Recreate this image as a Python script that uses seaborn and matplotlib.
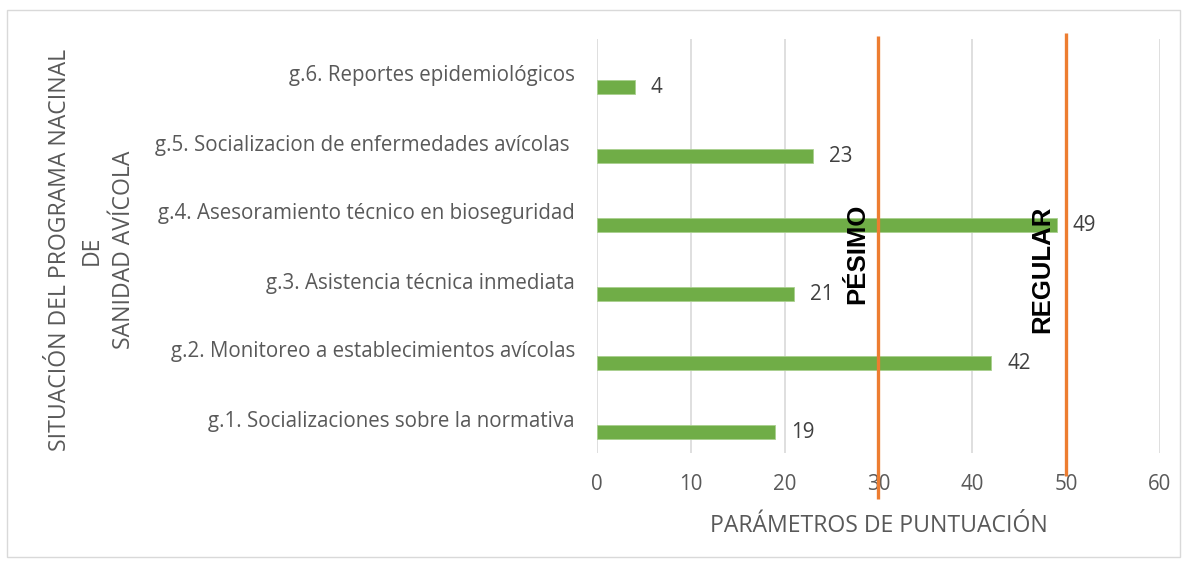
import matplotlib
matplotlib.use("Agg")
import matplotlib.pyplot as plt
import pandas as pd
import seaborn as sns
from matplotlib.patches import Rectangle

# Data (top row first)
categories = [
    "g.6. Reportes epidemiológicos",
    "g.5. Socializacion de enfermedades avícolas ",
    "g.4. Asesoramiento técnico en bioseguridad",
    "g.3. Asistencia técnica inmediata",
    "g.2. Monitoreo a establecimientos avícolas",
    "g.1. Socializaciones sobre la normativa",
]
scores = [4, 23, 49, 21, 42, 19]
x_ticks = [0, 10, 20, 30, 40, 50, 60]
threshold_values = [30, 50]
threshold_labels = ["PÉSIMO", "REGULAR"]

df = pd.DataFrame({"categoria": categories, "puntaje": scores})

sns.set_theme(style="white")
plt.rcParams["font.family"] = ["Open Sans", "DejaVu Sans"]

GRAY = "#595959"
GREEN = "#70ad47"
ORANGE = "#ed7d31"
FS = 14.8

fig = plt.figure(figsize=(11.87, 5.64), dpi=100)
ax = fig.add_axes([597 / 1187, 1 - 453 / 564, (1160 - 597) / 1187, (453 - 39) / 564])

sns.barplot(data=df, x="puntaje", y="categoria", order=categories,
            color=GREEN, width=0.2, saturation=1, ax=ax, orient="h")

# Excel-style: bars sit slightly below the category centre
for p in ax.patches:
    p.set_y(p.get_y() + 0.2)
    p.set_edgecolor("#a9d08e")
    p.set_linewidth(0.6)

for p, v in zip(ax.patches, scores):
    ax.annotate(str(v), (p.get_width(), p.get_y() + p.get_height() / 2),
                xytext=(16, 0), textcoords="offset pixels",
                va="center", ha="left", fontsize=FS, color="#404040")

ax.set_xlim(0, 60)
ax.set_ylim(5.5, -0.5)
ax.set_xticks(x_ticks)
ax.xaxis.grid(True, color="#d9d9d9", linewidth=1.2)
ax.yaxis.grid(False)
ax.set_axisbelow(True)
for s in ax.spines.values():
    s.set_visible(False)

ax.tick_params(axis="y", length=0, pad=16, labelsize=FS, labelcolor=GRAY)
ax.tick_params(axis="x", length=0, pad=15, labelsize=FS, labelcolor=GRAY)

ax.set_xlabel("PARÁMETROS DE PUNTUACIÓN", fontsize=16.6, color=GRAY, labelpad=14)
ax.set_ylabel("")
fig.text(92 / 1187, 1 - 250 / 564,
         "SITUACIÓN DEL PROGRAMA NACINAL\nDE\nSANIDAD AVÍCOLA",
         rotation=90, ha="center", va="center", multialignment="center",
         fontsize=16.6, color=GRAY, linespacing=1.45)

# Threshold lines extending past the plot area
ax.plot([threshold_values[0]] * 2, [-0.545, 6.17], color=ORANGE, lw=2.4,
        clip_on=False, solid_capstyle="butt")
ax.plot([threshold_values[1]] * 2, [-0.59, 5.84], color=ORANGE, lw=2.4,
        clip_on=False, solid_capstyle="butt")

ax.text(27.7, 2.61, threshold_labels[0], rotation=90, ha="center", va="center",
        fontsize=18.5, fontweight="bold", color="black", family="Liberation Sans")
ax.text(47.5, 2.84, threshold_labels[1], rotation=90, ha="center", va="center",
        fontsize=18.5, fontweight="bold", color="black", family="Liberation Sans")

# light frame around the whole chart
fig.patches.append(Rectangle((7 / 1187, 1 - 557 / 564), (1180 - 7) / 1187, (557 - 10) / 564,
                             transform=fig.transFigure, fill=False,
                             edgecolor="#d9d9d9", linewidth=1))

fig.savefig("out.png", dpi=100)
